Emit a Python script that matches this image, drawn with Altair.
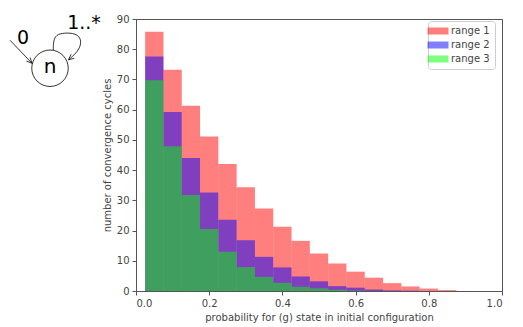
import altair as alt
import pandas as pd
import numpy as np

# ---------------- data ----------------
bin_center = [0.05, 0.10, 0.15, 0.20, 0.25, 0.30, 0.35, 0.40, 0.45,
              0.50, 0.55, 0.60, 0.65, 0.70, 0.75, 0.80, 0.85]
bin_half = 0.025
range1 = [85.8, 73.2, 61.3, 51.1, 42.0, 34.3, 27.3, 21.3, 16.6,
          12.4, 9.1, 6.4, 4.4, 2.6, 1.5, 0.8, 0.3]
range2 = [77.6, 59.2, 44.0, 32.6, 23.6, 16.8, 11.3, 7.8, 4.8,
          3.2, 1.6, 1.1, 0.5, 0.2, 0.1, 0.0, 0.0]
range3 = [69.7, 47.9, 31.8, 20.5, 13.0, 7.9, 4.7, 2.7, 1.4,
          0.9, 0.4, 0.15, 0.05, 0.0, 0.0, 0.0, 0.0]
series_names = ["range 1", "range 2", "range 3"]
series_colors = ["#ff0000", "#0000ff", "#00ff00"]
x_ticks = [0.0, 0.2, 0.4, 0.6, 0.8, 1.0]
y_ticks = [0, 10, 20, 30, 40, 50, 60, 70, 80, 90]

rows = []
for k, (name, vals) in enumerate(zip(series_names, [range1, range2, range3])):
    for c, v in zip(bin_center, vals):
        rows.append({"series": name, "lo": c - bin_half, "hi": c + bin_half,
                     "count": v, "k": k})
df = pd.DataFrame(rows)

FONT = "DejaVu Sans"
TXT = "#444444"

bars = alt.Chart(df).mark_rect(opacity=0.5, strokeWidth=0).encode(
    x=alt.X("lo:Q", scale=alt.Scale(domain=[0, 1], nice=False, padding=0),
            axis=alt.Axis(values=x_ticks, format=".1f",
                          title="probability for (g) state in initial configuration")),
    x2="hi:Q",
    y=alt.Y("count:Q", stack=None, scale=alt.Scale(domain=[0, 90], nice=False, padding=0),
            axis=alt.Axis(values=y_ticks, title="number of convergence cycles")),
    y2=alt.datum(0),
    color=alt.Color("series:N",
                    scale=alt.Scale(domain=series_names, range=series_colors),
                    legend=alt.Legend(title=None, orient="none", legendX=420, legendY=2,
                                      fillColor="white", strokeColor="#cccccc",
                                      cornerRadius=3, padding=5,
                                      labelFontSize=10, labelColor=TXT,
                                      symbolType="M-2.1,-0.7H2.1V0.7H-2.1Z",
                                      symbolSize=100, symbolOpacity=0.5,
                                      symbolStrokeWidth=0, rowPadding=4,
                                      labelOffset=8)),
    order=alt.Order("k:Q"),
).properties(width=366, height=272,
             view=alt.ViewBackground(stroke="#555555"))

# ---------------- state diagram (pixel-like coordinates) ----------------
xs = alt.Scale(domain=[8, 101], nice=False, zero=False)
ys = alt.Scale(domain=[17.7, 290], nice=False, zero=False, reverse=True)

node_x = [50]
node_y = [67]
node_label = ["n"]
edge_labels = ["0", "1..*"]
edge_label_x = [23, 84]
edge_label_y = [37, 22]

def arrowhead(tip, frm, length=6.0, ang=25):
    d = np.array(tip) - np.array(frm)
    d = d / np.linalg.norm(d)
    pts = []
    for s in (1, -1):
        a = np.deg2rad(s * ang)
        r = np.array([[np.cos(a), -np.sin(a)], [np.sin(a), np.cos(a)]])
        back = np.array(tip) - length * (r @ d)
        pts.append(back)
    return pts

seg_rows = []
in_path = [(10, 39), (32, 62)]
for i, (x, y) in enumerate(in_path):
    seg_rows.append({"x": x, "y": y, "seg": "in", "o": i})
loop_path = [(53.3, 49), (53.3, 40), (56, 33.5), (64, 31.5), (76, 32),
             (81.5, 38), (80, 47), (74, 54), (68.5, 58.5)]
loop_rows = [{"x": x, "y": y, "seg": "loop", "o": i} for i, (x, y) in enumerate(loop_path)]
heads = [((32, 62), (10, 39), "h1"), ((68.5, 58.5), (74, 54), "h2")]
for tip, frm, nm in heads:
    b1, b2 = arrowhead(tip, frm)
    for i, p in enumerate([b1, tip, b2]):
        seg_rows.append({"x": float(p[0]), "y": float(p[1]), "seg": nm, "o": i})

seg_df = pd.DataFrame(seg_rows)
loop_df = pd.DataFrame(loop_rows)
node_df = pd.DataFrame({"x": node_x, "y": node_y, "label": node_label})
lab_df = pd.DataFrame({"x": edge_label_x, "y": edge_label_y, "label": edge_labels})

enc = dict(x=alt.X("x:Q", scale=xs, axis=None), y=alt.Y("y:Q", scale=ys, axis=None))

circle = alt.Chart(node_df).mark_point(shape="circle", size=1330, filled=False,
                                       color="black", strokeWidth=0.8, opacity=1).encode(**enc)
ntext = alt.Chart(node_df).mark_text(font=FONT, fontSize=20, color="black",
                                     baseline="middle", align="center", dy=-1).encode(text="label:N", **enc)
lines = alt.Chart(seg_df).mark_line(color="black", strokeWidth=0.8).encode(
    detail="seg:N", order="o:Q", **enc)
loop = alt.Chart(loop_df).mark_line(color="black", strokeWidth=0.8, interpolate="basis").encode(
    order="o:Q", **enc)
ltext = alt.Chart(lab_df).mark_text(font=FONT, fontSize=19, color="black",
                                    baseline="middle", align="center").encode(text="label:N", **enc)

diagram = alt.layer(circle, ntext, lines, loop, ltext).properties(
    width=93, height=272, view=alt.ViewBackground(stroke=None))

chart = alt.hconcat(diagram, bars, spacing=0).properties(
    padding={"left": 0, "top": 5, "right": 0, "bottom": 5}
).configure(font=FONT).configure_axis(
    labelFont=FONT, titleFont=FONT, labelFontSize=10, titleFontSize=10,
    titleFontWeight="normal", labelColor=TXT, titleColor=TXT,
    domainColor="#555555", tickColor="#555555", grid=False,
    tickSize=4, labelPadding=3, titlePadding=4
).configure_legend(labelFont=FONT)

chart.save("out.html", embed_options={"renderer": "svg", "actions": False})
